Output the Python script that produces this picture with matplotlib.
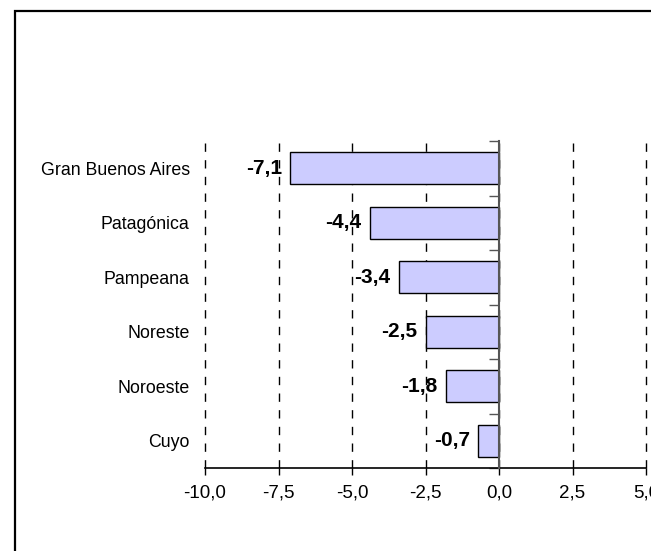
import matplotlib.pyplot as plt
import matplotlib.patches as mpatches
from matplotlib.ticker import FixedLocator, FuncFormatter

plt.rcParams['font.family'] = ['Liberation Sans', 'DejaVu Sans']

# regiones, de arriba hacia abajo
regions = ["Gran Buenos Aires", "Patagónica", "Pampeana", "Noreste", "Noroeste", "Cuyo"]
values = [-7.1, -4.4, -3.4, -2.5, -1.8, -0.7]
x_ticks = [-10.0, -7.5, -5.0, -2.5, 0.0, 2.5, 5.0]


def coma(v, pos=None):
    return f"{v:.1f}".replace(".", ",")


fig = plt.figure(figsize=(6.51, 5.51), dpi=100)

# marco del grafico (cortado a la derecha y abajo)
fig.patches.append(mpatches.Rectangle((15 / 651, -0.05), 1.0, 1.05 - 11 / 551,
                                      transform=fig.transFigure, fill=False,
                                      edgecolor="black", linewidth=1.6))

ax = fig.add_axes([205 / 651, 1 - 468 / 551, 441 / 651, 327 / 551])

pos = list(range(len(regions)))
bars = ax.barh(pos, values, height=0.59, color="#ccccff",
               edgecolor="black", linewidth=1.0, zorder=3)
ax.bar_label(bars, labels=[coma(v) for v in values], padding=6,
             fontsize=15, fontweight="bold")

ax.set_xlim(-10, 5)
ax.set_ylim(len(regions) - 0.5, -0.5)

ax.xaxis.set_major_locator(FixedLocator(x_ticks))
ax.xaxis.set_major_formatter(FuncFormatter(coma))
ax.tick_params(axis="x", length=5, width=1, labelsize=13.5, pad=7, color="black")
ax.grid(axis="x", color="black", linestyle=(0, (6, 6)), linewidth=1)
for gl in ax.get_xgridlines():
    gl.set_clip_on(False)
ax.set_axisbelow(True)

# eje vertical en cero, con marcas entre categorias
ax.spines["left"].set_position(("data", 0))
ax.spines["left"].set_color("#555555")
ax.spines["left"].set_linewidth(1.5)
ax.spines["left"].set_zorder(4)
ax.yaxis.set_major_locator(FixedLocator(pos))
ax.yaxis.set_minor_locator(FixedLocator([p - 0.5 for p in pos] + [len(regions) - 0.5]))
ax.tick_params(axis="y", which="major", length=0, labelleft=False)
ax.tick_params(axis="y", which="minor", length=7, width=1, color="#555555")
ax.spines["top"].set_visible(False)
ax.spines["right"].set_visible(False)
ax.spines["bottom"].set_linewidth(1.2)

# nombres de las regiones a la izquierda
sec = ax.secondary_yaxis("left")
sec.set_yticks(pos)
sec.set_yticklabels(regions)
sec.tick_params(length=0, labelsize=12.8, pad=11)
sec.spines["left"].set_visible(False)

fig.savefig("out.png", dpi=100)
